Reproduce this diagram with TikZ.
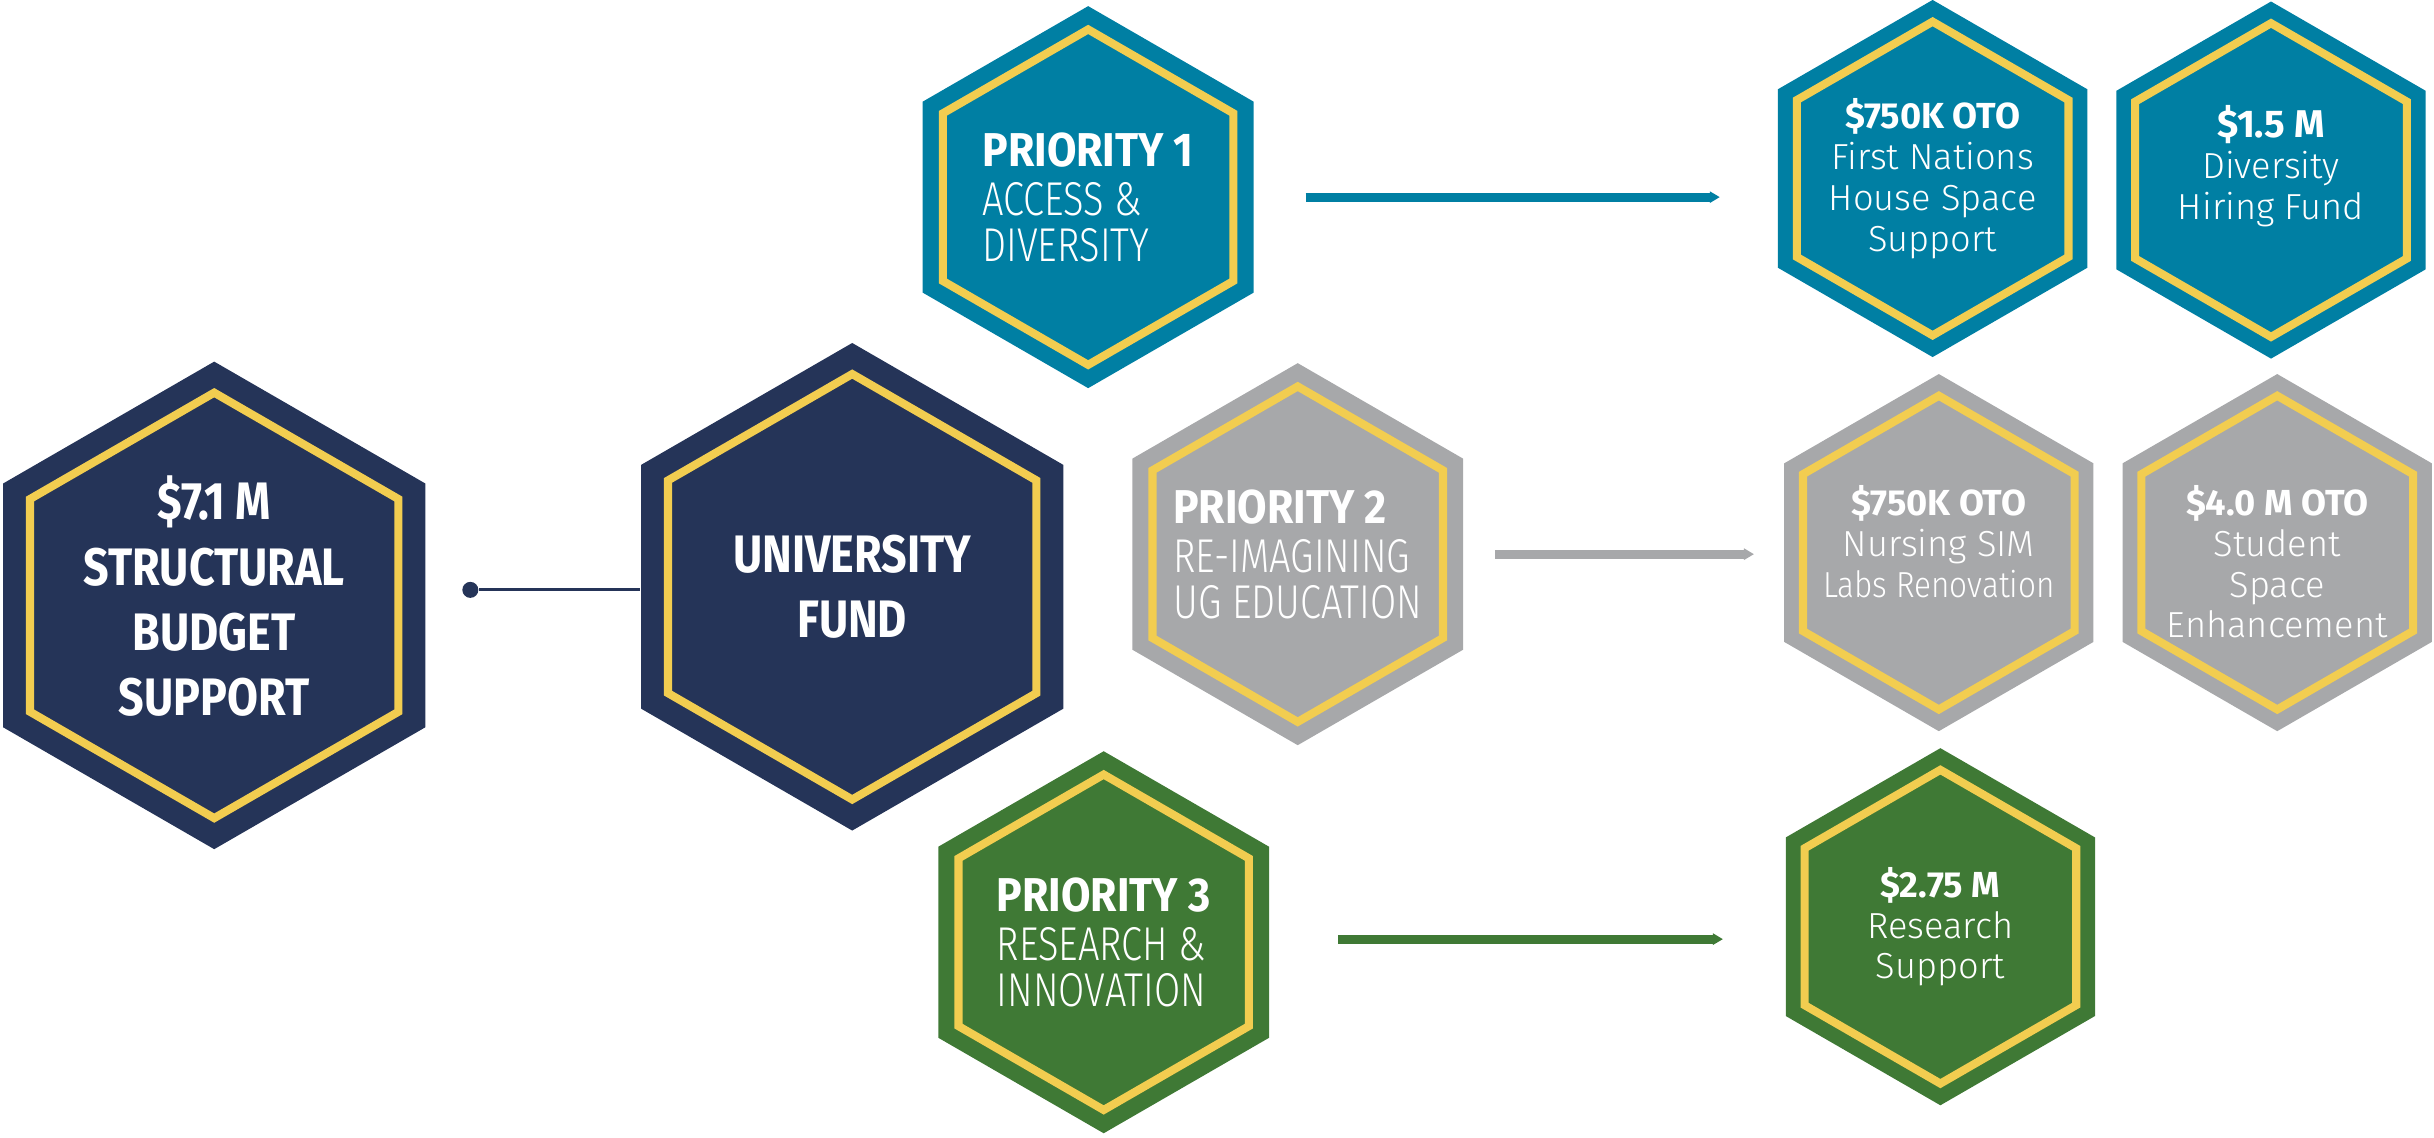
\documentclass[tikz,border=0pt]{standalone}
\usepackage{fontspec}
\setmainfont{Fira Sans}
\newfontfamily\bigfont{Fira Sans}[FakeStretch=0.85]
\newfontfamily\prifont{Fira Sans}[FakeStretch=0.9]
\newfontfamily\prisubfont{Fira Sans Light}[FakeStretch=0.8]
\newfontfamily\lightfont{Fira Sans Light}
\newfontfamily\lightnarrow{Fira Sans Light}[FakeStretch=0.87]
\usetikzlibrary{shapes.geometric, calc, arrows.meta}
\definecolor{hexnavy}{RGB}{37,52,88}
\definecolor{hexteal}{RGB}{0,127,163}
\definecolor{hexgray}{RGB}{167,168,170}
\definecolor{hexgreen}{RGB}{63,121,53}
\definecolor{hexgold}{RGB}{242,205,80}
\tikzset{
  hex/.style={regular polygon, regular polygon sides=6, shape border rotate=90, inner sep=0pt, fill=#1},
  rim/.style={regular polygon, regular polygon sides=6, shape border rotate=90, inner sep=0pt, draw=hexgold, line width=2.3pt},
  bighex/.style={minimum size=4.874cm}, bigrim/.style={minimum size=4.253cm},
  prihex/.style={minimum size=3.819cm}, pririm/.style={minimum size=3.353cm},
  subhex/.style={minimum size=3.570cm}, subrim/.style={minimum size=3.136cm},
  bigtxt/.style={text=white, align=center, inner sep=0pt, font=\bigfont\bfseries\fontsize{15}{18.5}\selectfont},
  pritxt/.style={text=white, align=left, inner sep=0pt, font=\fontsize{13.5}{13}\selectfont},
  subtxt/.style={text=white, align=center, inner sep=0pt, font=\lightfont\fontsize{10.3}{11.6}\selectfont},
  flow/.style={line width=0.9mm, draw=#1, -{Triangle[length=1mm, width=1.1mm]}}
}
\begin{document}
\begin{tikzpicture}[x=0.015523cm, y=-0.015523cm]
\useasboundingbox (0,0) rectangle (1568,733);

\node[hex=hexnavy, bighex] (budget) at (138,390) {};
\node[rim, bigrim] (budget-r) at (budget) {};
\node[bigtxt] (budget-t) at (138,384) {\$7.1 M\\ STRUCTURAL\\ BUDGET\\ SUPPORT};

\node[hex=hexnavy, bighex] (fund) at (549,378) {};
\node[rim, bigrim] (fund-r) at (fund) {};
\node[bigtxt] (fund-t) at (fund) {UNIVERSITY\\ FUND};

\node[hex=hexteal, prihex] (p1) at (701,127) {};
\node[rim, pririm] (p1-r) at (p1) {};
\node[pritxt] (p1-t) at (p1) {{\prifont\bfseries PRIORITY 1}\\[1pt] {\prisubfont ACCESS \&}\\ {\prisubfont DIVERSITY}};

\node[hex=hexgray, prihex] (p2) at (836,357) {};
\node[rim, pririm] (p2-r) at (p2) {};
\node[pritxt] (p2-t) at (p2) {{\prifont\bfseries PRIORITY 2}\\[1pt] {\prisubfont RE-IMAGINING}\\ {\prisubfont UG EDUCATION}};

\node[hex=hexgreen, prihex] (p3) at (711,607) {};
\node[rim, pririm] (p3-r) at (p3) {};
\node[pritxt] (p3-t) at (p3) {{\prifont\bfseries PRIORITY 3}\\[1pt] {\prisubfont RESEARCH \&}\\ {\prisubfont INNOVATION}};

\node[hex=hexteal, subhex] (r1a) at (1245,115) {};
\node[rim, subrim] (r1a-r) at (r1a) {};
\node[subtxt] (r1a-t) at (r1a) {{\normalfont\bfseries \$750K OTO}\\ First Nations\\ House Space\\ Support};

\node[hex=hexteal, subhex] (r1b) at (1463,116) {};
\node[rim, subrim] (r1b-r) at (r1b) {};
\node[subtxt] (r1b-t) at (1463,107) {{\normalfont\bfseries\fontsize{11}{11.6}\selectfont \$1.5 M}\\ Diversity\\ Hiring Fund};

\node[hex=hexgray, subhex] (r2a) at (1249,356) {};
\node[rim, subrim] (r2a-r) at (r2a) {};
\node[subtxt] (r2a-t) at (1249,349) {{\normalfont\bfseries \$750K OTO}\\ Nursing SIM\\ {\lightnarrow Labs Renovation}};

\node[hex=hexgray, subhex] (r2b) at (1467,356) {};
\node[rim, subrim] (r2b-r) at (r2b) {};
\node[subtxt] (r2b-t) at (1467,362) {{\normalfont\bfseries \$4.0 M OTO}\\ Student\\ Space\\ Enhancement};

\node[hex=hexgreen, subhex] (r3) at (1250,597) {};
\node[rim, subrim] (r3-r) at (r3) {};
\node[subtxt] (r3-t) at (r3) {{\normalfont\bfseries \$2.75 M}\\ Research\\ Support};

\node[circle, fill=hexnavy, inner sep=0pt, minimum size=0.16cm] (dot) at (303,380) {};
\draw[hexnavy, line width=0.85pt] (dot) -- (dot -| fund.west);

\draw[flow=hexteal] ($(p1.east)+(33,0)$) -- ($(p1.east -| r1a.west)+(-37,0)$);
\draw[flow=hexgray] ($(p2.east)+(20,0)$) -- ($(p2.east -| r2a.west)+(-19,0)$);
\draw[flow=hexgreen] ($(p3.east)+(44,-2)$) -- ($(p3.east -| r3.west)+(-40,-2)$);
\end{tikzpicture}
\end{document}
